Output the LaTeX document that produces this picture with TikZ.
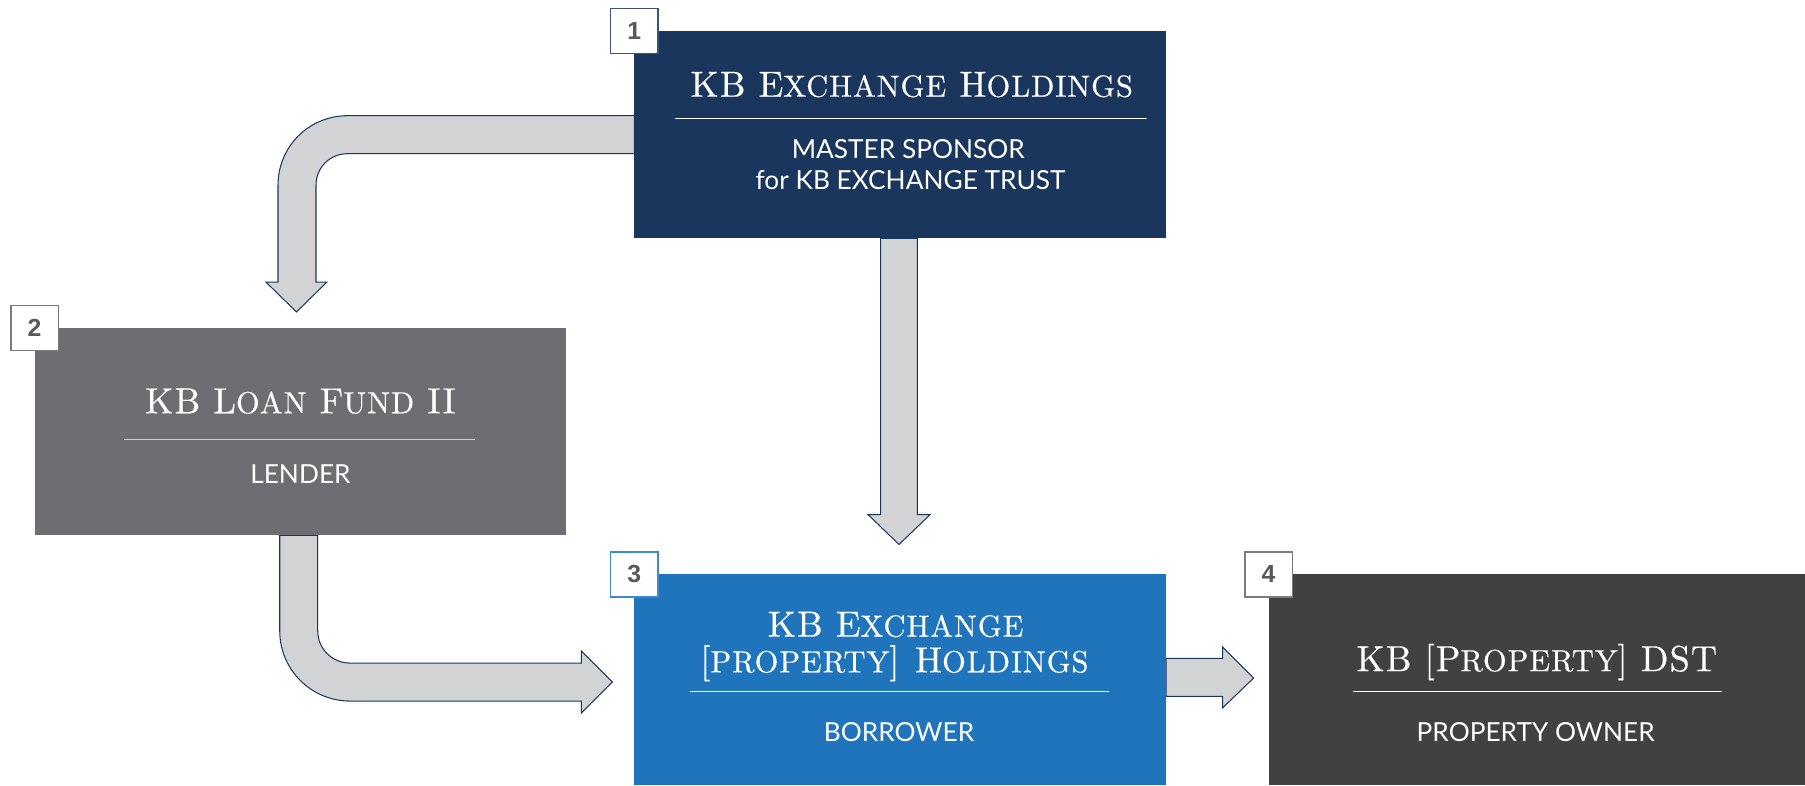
\documentclass[tikz,border=0pt]{standalone}
\usepackage{fontspec}
\usetikzlibrary{calc}
\newfontfamily\subfont{Lato}
\newfontfamily\numfont{Liberation Sans}
\newfontfamily\titlefont{lmroman10-regular.otf}[LetterSpace=3,FakeBold=0.4]
\newcommand\kbsmall[1]{{\fontsize{26.5}{30}\selectfont #1}}
\definecolor{navy}{HTML}{1B365D}
\definecolor{lendergrey}{HTML}{6D6E71}
\definecolor{borrowblue}{HTML}{1F74BC}
\definecolor{ownerdark}{HTML}{414042}
\definecolor{arrowfill}{HTML}{D1D3D4}
\definecolor{numgrey}{HTML}{58595B}
\definecolor{badgenavy}{HTML}{3A5480}
\definecolor{badgeblue}{HTML}{3D8AD0}
\definecolor{badgegrey}{HTML}{7A7B7E}
\tikzset{
  box/.style={rectangle, inner sep=0pt, outer sep=0pt, draw=none},
  badge/.style={rectangle, fill=white, draw=#1, line width=1.1pt, minimum width=41pt, minimum height=39pt, inner sep=0pt, text=numgrey, font=\numfont\bfseries\fontsize{21.5}{21.5}\selectfont},
  titletext/.style={anchor=base, inner sep=0pt, text=white, font=\titlefont\fontsize{31.5}{34}\selectfont},
  subtext/.style={anchor=base, inner sep=0pt, text=white, font=\subfont\fontsize{22.8}{27}\selectfont},
  rule/.style={line width=1.1pt, draw=#1},
  blockarrow/.style={fill=arrowfill, draw=navy, line width=0.9pt, line join=miter}
}
\begin{document}
\begin{tikzpicture}[x=1pt, y=-1pt]
\useasboundingbox (0,0) rectangle (1568,682);
% boxes (positions)
\node[box, minimum width=462pt, minimum height=180pt] (b1) at (782,117) {};
\node[box, minimum width=462pt, minimum height=180pt] (b2) at (261,375) {};
\node[box, minimum width=462pt, minimum height=183pt] (b3) at (782,590.5) {};
\node[box, minimum width=466pt, minimum height=183pt] (b4) at (1335,590.5) {};

% arrow 1 -> 2
\draw[blockarrow] ($(b1.west)+(0,-16.5)$) -- (302,100.5)
  .. controls (268.3,100.5) and (241.5,127.3) .. (241.5,161)
  -- (241.5,245) -- (231,245) -- ($(b2.north)+(-3.5,-14)$) -- (284,245) -- (274.5,245)
  -- (274.5,161) .. controls (274.5,145.5) and (286.5,133.5) .. (302,133.5)
  -- ($(b1.west)+(0,16.5)$) -- cycle;
% arrow 1 -> 3
\draw[blockarrow] ($(b1.south)+(-17,0)$) -- ($(b3.north)+(-17,-52)$) -- ($(b3.north)+(-28,-52)$)
  -- ($(b3.north)+(-1,-26)$) -- ($(b3.north)+(26,-52)$) -- ($(b3.north)+(15,-52)$)
  -- ($(b1.south)+(15,0)$) -- cycle;
% arrow 2 -> 3
\draw[blockarrow] ($(b2.south)+(-18,0)$) -- (243,548)
  .. controls (243,581.7) and (270.3,609) .. (304,609)
  -- (505,609) -- (505,619.5) -- ($(b3.west)+(-19,2)$) -- (505,565.5) -- (505,576)
  -- (304,576) .. controls (288.5,576) and (276,563.5) .. (276,548)
  -- ($(b2.south)+(15,0)$) -- cycle;
% arrow 3 -> 4
\draw[blockarrow] ($(b3.east)+(0,-18.5)$) -- (1062,572) -- (1062,562) -- ($(b4.west)+(-13,-1.5)$)
  -- (1062,615) -- (1062,605) -- ($(b3.east)+(0,14.5)$) -- cycle;

% box fills drawn over arrow ends
\fill[navy] (b1.north west) rectangle (b1.south east);
\fill[lendergrey] (b2.north west) rectangle (b2.south east);
\fill[borrowblue] (b3.north west) rectangle (b3.south east);
\fill[ownerdark] (b4.north west) rectangle (b4.south east);

% box 1 text
\node[titletext] (t1) at (792,84) {KB E\kbsmall{XCHANGE} H\kbsmall{OLDINGS}};
\draw[rule=white] (586,103) -- (996,103);
\node[subtext] (s1a) at (789,138) {MASTER SPONSOR};
\node[subtext] (s1b) at (791,165) {for KB EXCHANGE TRUST};
% box 2 text
\node[titletext] (t2) at (261,359) {KB L\kbsmall{OAN} F\kbsmall{UND} II};
\draw[rule=arrowfill] (108,382) -- (413,382);
\node[subtext] (s2) at (261,420) {LENDER};
% box 3 text
\node[titletext] (t3a) at (778,553) {KB E\kbsmall{XCHANGE}};
\node[titletext] (t3b) at (777,584) {[\kbsmall{PROPERTY}]\hspace{2pt} H\kbsmall{OLDINGS}};
\draw[rule=white] (599,601) -- (963,601);
\node[subtext] (s3) at (781,644) {BORROWER};
% box 4 text
\node[titletext] (t4) at (1335,583) {KB [P\kbsmall{ROPERTY}] DST};
\draw[rule=white] (1175,601) -- (1496,601);
\node[subtext] (s4) at (1334,644) {PROPERTY OWNER};

% badges
\node[badge=badgenavy] (n1) at (b1.north west) {1};
\node[badge=badgegrey] (n2) at (b2.north west) {2};
\node[badge=badgeblue] (n3) at (b3.north west) {3};
\node[badge=badgegrey] (n4) at (b4.north west) {4};
\end{tikzpicture}
\end{document}
